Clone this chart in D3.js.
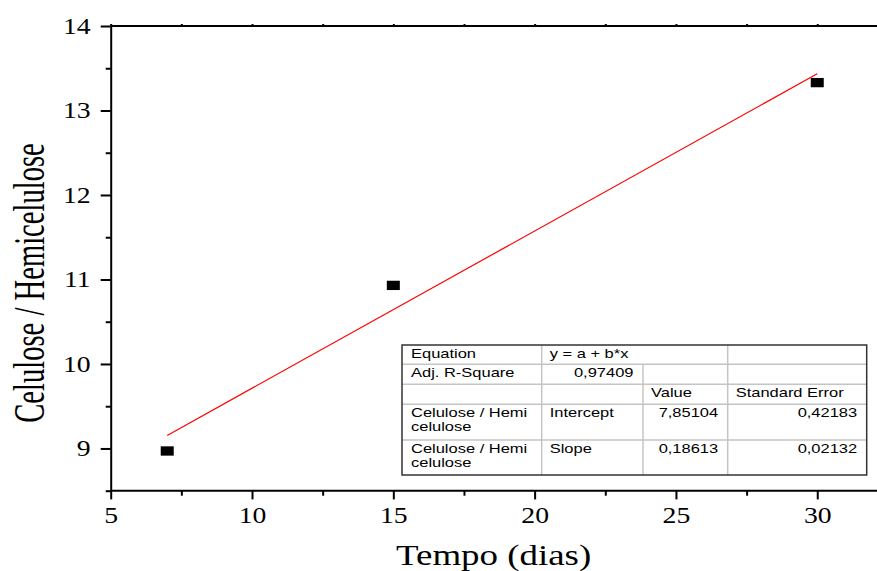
<!DOCTYPE html>
<html>
<head>
<meta charset="utf-8">
<script src="https://cdn.jsdelivr.net/npm/d3@7"></script>
<style>
body { margin: 0; background: #fff; }
.axis path, .axis line { stroke: #000; stroke-width: 2; }
</style>
</head>
<body>
<div id="chart"></div>
<script>
// data
const tempo = [7, 15, 30];
const razao = [8.97, 10.93, 13.33];
// linear fit shown in the table
const fitIntercept = 7.85104;
const fitSlope = 0.18613;
const fitRange = [7, 30];

const xTicks = [5, 10, 15, 20, 25, 30];
const xMinor = [7.5, 12.5, 17.5, 22.5, 27.5];
const xTopTicks = [5, 7.5, 10, 12.5, 15, 17.5, 20, 22.5, 25, 27.5, 30, 32.5];
const yTicks = [9, 10, 11, 12, 13, 14];
const yMinor = [8.5, 9.5, 10.5, 11.5, 12.5, 13.5];

const tableRows = [
    ["Equation", "y = a + b*x", null, ""],
    ["Adj. R-Square", "0,97409", "", ""],
    ["", "", "Value", "Standard Error"],
    ["Celulose / Hemi\ncelulose", "Intercept", "7,85104", "0,42183"],
    ["Celulose / Hemi\ncelulose", "Slope", "0,18613", "0,02132"]
];

const W = 877, H = 571;
const plot = {left: 110.7, right: 876.6, top: 26, bottom: 490.7};
const stretchX = 1.23;   // the picture is wider than the original text

// stretch text horizontally with textLength
function stretch(sel, k) {
    sel.each(function() {
        let w = this.getComputedTextLength();
        if (w > 0) {
            d3.select(this).attr("textLength", w * k).attr("lengthAdjust", "spacingAndGlyphs");
        }
    });
}

let svg = d3.select("#chart").append("svg")
    .attr("width", W)
    .attr("height", H);

const x = d3.scaleLinear().domain([5, 32.1]).range([plot.left, plot.right]);
const y = d3.scaleLinear().domain([8.5, 14]).range([plot.bottom, plot.top]);

const serif = "Liberation Serif";
const sans = "Liberation Sans";

// top axis (line with tiny ticks)
let topAx = svg.append("g").attr("class", "axis")
    .attr("transform", `translate(0,${plot.top})`)
    .call(d3.axisTop(x).tickValues(xTopTicks).tickSizeInner(2).tickSizeOuter(0).tickFormat(""));
topAx.select(".domain").attr("d", `M${plot.left},0H${W}`);

// minor ticks
svg.append("g").attr("class", "axis")
    .attr("transform", `translate(0,${plot.bottom})`)
    .call(d3.axisBottom(x).tickValues(xMinor).tickSize(5).tickFormat(""))
    .select(".domain").remove();
svg.append("g").attr("class", "axis")
    .attr("transform", `translate(${plot.left},0)`)
    .call(d3.axisLeft(y).tickValues(yMinor).tickSize(5).tickFormat(""))
    .select(".domain").remove();

// bottom axis
let xAx = svg.append("g").attr("class", "axis")
    .attr("font-family", serif)
    .attr("transform", `translate(0,${plot.bottom})`)
    .call(d3.axisBottom(x).tickValues(xTicks).tickFormat(d3.format("d"))
        .tickSizeInner(8.7).tickSizeOuter(0).tickPadding(7.8));
xAx.select(".domain").attr("d", `M${plot.left},0H${W}`);
xAx.selectAll("text")
    .attr("font-family", serif).attr("font-size", 22.5).attr("fill", "#000")
    .call(stretch, stretchX);

// left axis
let yAx = svg.append("g").attr("class", "axis")
    .attr("font-family", serif)
    .attr("transform", `translate(${plot.left},0)`)
    .call(d3.axisLeft(y).tickValues(yTicks).tickFormat(d3.format("d"))
        .tickSizeInner(10).tickSizeOuter(0).tickPadding(10));
yAx.selectAll("text")
    .attr("font-family", serif).attr("font-size", 22.5).attr("fill", "#000")
    .attr("dy", "0.32em")
    .call(stretch, stretchX);

// axis titles
let xTitle = svg.append("text")
    .attr("x", (plot.left + plot.right) / 2)
    .attr("y", 565)
    .attr("text-anchor", "middle")
    .attr("font-family", serif)
    .attr("font-size", 30)
    .text("Tempo (dias)");
stretch(xTitle, stretchX);

// y title is tall and narrow in the picture
svg.append("text")
    .attr("transform", "translate(44,283) rotate(-90) scale(1,1.55)")
    .attr("text-anchor", "middle")
    .attr("font-family", serif)
    .attr("font-size", 28.6)
    .text("Celulose / Hemicelulose");

// fit line
const fitPts = fitRange.map(t => [t, fitIntercept + fitSlope * t]);
svg.append("path")
    .attr("d", d3.line().x(d => x(d[0])).y(d => y(d[1]))(fitPts))
    .attr("fill", "none")
    .attr("stroke", "#ff0000")
    .attr("stroke-width", 1.2);

// square markers
const mw = 13, mh = 9.3;
svg.append("g").selectAll("rect")
    .data(tempo.map((t, i) => ({t: t, v: razao[i]})))
    .join("rect")
    .attr("x", d => x(d.t) - mw / 2)
    .attr("y", d => y(d.v) - mh / 2)
    .attr("width", mw)
    .attr("height", mh)
    .attr("fill", "#000");

// results table
const colX = [402, 541.7, 643, 727.7, 866.7];
const rowY = [345, 364.3, 384.3, 404.3, 440, 475];
let table = svg.append("g");
table.append("rect")
    .attr("x", colX[0]).attr("y", rowY[0])
    .attr("width", colX[4] - colX[0]).attr("height", rowY[5] - rowY[0])
    .attr("fill", "#fff");

const grid = "#c4c4c4";
for (let r = 1; r < rowY.length - 1; r++) {
    table.append("line")
        .attr("x1", colX[0]).attr("x2", colX[4])
        .attr("y1", rowY[r]).attr("y2", rowY[r])
        .attr("stroke", grid).attr("stroke-width", 1.5);
}
for (let c = 1; c < colX.length - 1; c++) {
    let y0 = (c == 2) ? rowY[1] : rowY[0];
    table.append("line")
        .attr("x1", colX[c]).attr("x2", colX[c])
        .attr("y1", y0).attr("y2", rowY[5])
        .attr("stroke", grid).attr("stroke-width", 1.5);
}
table.append("rect")
    .attr("x", colX[0]).attr("y", rowY[0])
    .attr("width", colX[4] - colX[0]).attr("height", rowY[5] - rowY[0])
    .attr("fill", "none")
    .attr("stroke", "#333")
    .attr("stroke-width", 1.5);

tableRows.forEach((row, r) => {
    row.forEach((cell, c) => {
        if (!cell) return;
        let numeric = /^[\d,]+$/.test(cell);
        let tx = numeric ? colX[c + 1] - 9.5 : colX[c] + (c == 0 ? 9 : 8);
        cell.split("\n").forEach((line, k) => {
            table.append("text")
                .attr("font-family", sans)
                .attr("font-size", 13.5)
                .attr("fill", "#000")
                .attr("text-anchor", numeric ? "end" : "start")
                .attr("x", tx)
                .attr("y", rowY[r] + 13 + k * 14)
                .text(line)
                .call(stretch, 1.22);
        });
    });
});
</script>
</body>
</html>
